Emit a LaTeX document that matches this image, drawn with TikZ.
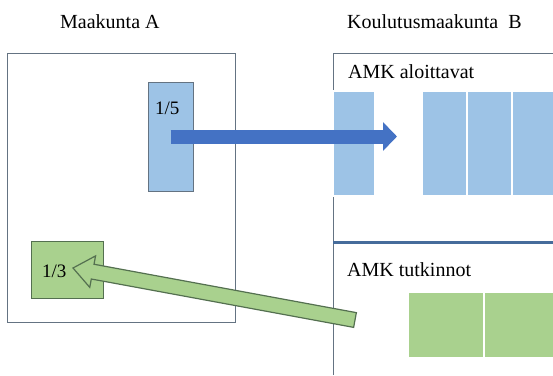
\documentclass[tikz,border=0pt]{standalone}
\usepackage{fontspec}
\setmainfont{Liberation Serif}
\usepackage{tikz}
\usetikzlibrary{positioning,calc,arrows.meta}
\definecolor{framegray}{RGB}{100,115,130}
\definecolor{lblue}{RGB}{157,195,230}
\definecolor{dblue}{RGB}{68,114,196}
\definecolor{divblue}{RGB}{70,108,155}
\definecolor{lgreen}{RGB}{169,209,142}
\definecolor{dgreen}{RGB}{84,112,80}
\tikzstyle{txt}= [inner sep=0pt, anchor=base west, font=\fontsize{20}{24}\selectfont]
\tikzstyle{lbl}= [inner sep=0pt, anchor=base west, font=\fontsize{19}{23}\selectfont]
\tikzstyle{cell}= [inner sep=0pt, draw=white, line width=1.5pt]

\begin{document}
\begin{tikzpicture}[x=1pt, y=-1pt]
				\useasboundingbox (0,0) rectangle (553,375);
				\node[txt] (titleA) at (60,28) {Maakunta A};
				\node[txt] (titleB) at (347,28) {Koulutusmaakunta\ \ B};
				\node[draw=framegray, inner sep=0pt, minimum width=228pt, minimum height=269pt] (regA) at (121,187.5) {};
				\draw[framegray] (333,375) -- (333,53) -- (553,53);
				\draw[divblue, line width=3pt] (333,242) -- (553,242);
				\node[fill=lblue, draw=framegray, inner sep=0pt, minimum width=45pt, minimum height=109pt] (b15) at (170.5,136.5) {};
				\node[lbl] (l15) at (155,114) {1/5};
				\node[fill=lgreen, draw=dgreen, inner sep=0pt, minimum width=72pt, minimum height=57pt] (g13) at (67,269.5) {};
				\node[lbl] (l13) at (42,277) {1/3};
				\node[txt] (aloit) at (348,78) {AMK aloittavat};
				\node[cell, fill=lblue, minimum width=42pt, minimum height=105pt] (bc0) at (354,143.5) {};
				\node[cell, fill=lblue, minimum width=45pt, minimum height=105pt] (bc1) at (444.5,143.5) {};
				\node[cell, fill=lblue, minimum width=45pt, minimum height=105pt] (bc2) at (489.5,143.5) {};
				\node[cell, fill=lblue, minimum width=45pt, minimum height=105pt] (bc3) at (534.5,143.5) {};
				\node[txt] (tutk) at (347,276) {AMK tutkinnot};
				\node[cell, fill=lgreen, minimum width=76pt, minimum height=66pt] (gc1) at (446,325) {};
				\node[cell, fill=lgreen, minimum width=76pt, minimum height=66pt] (gc2) at (522,325) {};
				% arrows
				\coordinate (btip) at (397,136.5);
				\draw[dblue, line width=14pt, -{Triangle[width=28pt, length=14pt]}] (b15.center) -- (btip);
				\coordinate (gtail) at (355,320);
				\coordinate (gtip) at (73,268);
				\coordinate (ghead) at ($(gtip)!20pt!(gtail)$);
				\filldraw[fill=lgreen, draw=dgreen, line width=1.2pt, line join=miter] (gtip) -- ($(ghead)!16pt!90:(gtip)$) -- ($(ghead)!7.5pt!90:(gtip)$) -- ($(gtail)!7.5pt!90:(gtip)$) -- ($(gtail)!7.5pt!-90:(gtip)$) -- ($(ghead)!7.5pt!-90:(gtip)$) -- ($(ghead)!16pt!-90:(gtip)$) -- cycle;
			\end{tikzpicture}
\end{document}
